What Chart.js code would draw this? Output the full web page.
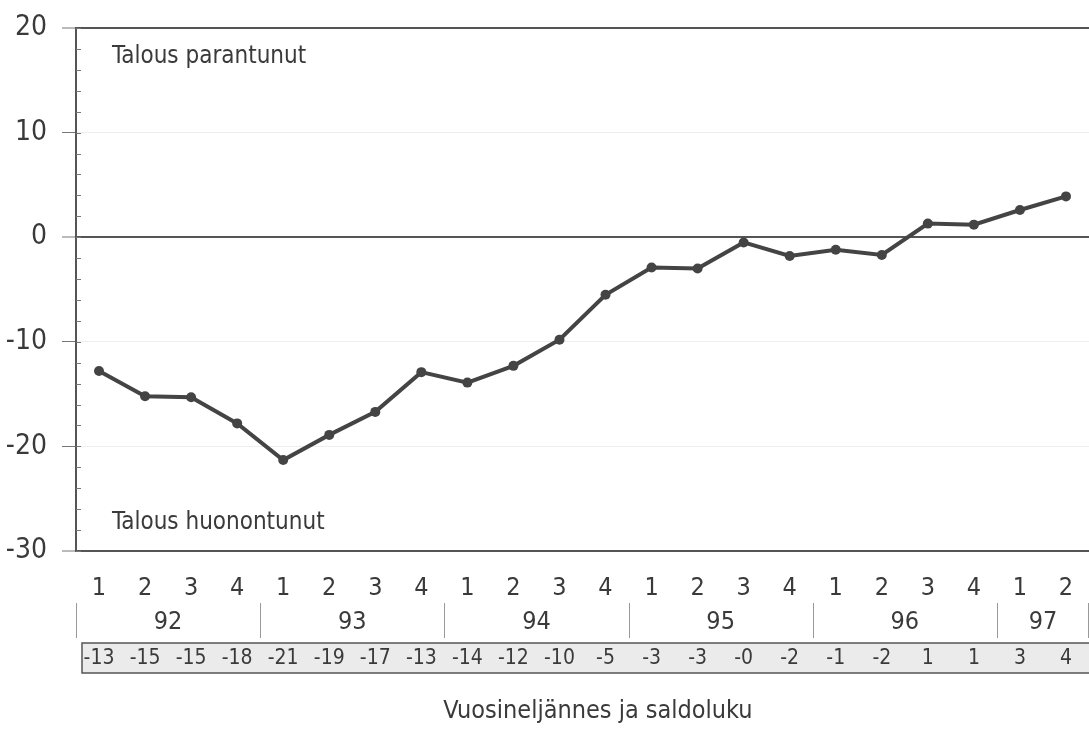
<!DOCTYPE html>
<html>
<head>
<meta charset="utf-8">
<script src="https://cdn.jsdelivr.net/npm/chart.js@4/dist/chart.umd.min.js"></script>
<style>
  body { margin: 0; background: #fff; }
  #wrap { width: 1089px; height: 729px; }
</style>
</head>
<body>
<div id="wrap"><canvas id="chart" width="1089" height="729"></canvas></div>
<script>
const quarters = ["1","2","3","4","1","2","3","4","1","2","3","4","1","2","3","4","1","2","3","4","1","2"];
const years = ["92", "93", "94", "95", "96", "97"];
const yearSpan = [4, 4, 4, 4, 4, 2];
const values = [-12.8, -15.2, -15.3, -17.8, -21.3, -18.9, -16.7, -12.9, -13.9, -12.3, -9.8, -5.5,
                -2.9, -3.0, -0.5, -1.8, -1.2, -1.7, 1.3, 1.2, 2.6, 3.9];
const saldo = ["-13","-15","-15","-18","-21","-19","-17","-13","-14","-12","-10","-5",
               "-3","-3","-0","-2","-1","-2","1","1","3","4"];
const yTicks = [20, 10, 0, -10, -20, -30];

const FONT = '"Liberation Sans Narrow", "DejaVu Sans Condensed", sans-serif';
const INK = "#3a3a3a";
const LINE = "#555";

const extras = {
  id: "extras",
  afterDraw(chart) {
    const ctx = chart.ctx;
    const x = chart.scales.x;
    const y = chart.scales.y;
    const area = chart.chartArea;
    ctx.save();

    // minor ticks inside the left axis
    ctx.strokeStyle = "#777";
    ctx.lineWidth = 1;
    for (let v = -30; v <= 20; v += 2) {
      const py = Math.round(y.getPixelForValue(v)) + 0.5;
      ctx.beginPath();
      ctx.moveTo(area.left, py);
      ctx.lineTo(area.left + 5, py);
      ctx.stroke();
    }

    // annotations
    ctx.fillStyle = INK;
    ctx.font = "24px " + FONT;
    ctx.textBaseline = "middle";
    ctx.textAlign = "left";
    ctx.fillText("Talous parantunut", 112, 57);
    ctx.fillText("Talous huonontunut", 112, 523);

    // year row with separators
    const half = (x.getPixelForValue(1) - x.getPixelForValue(0)) / 2;
    ctx.strokeStyle = "#999";
    ctx.lineWidth = 1;
    let idx = 0;
    ctx.font = "25px " + FONT;
    ctx.textAlign = "center";
    years.forEach(function (yr, i) {
      const x0 = x.getPixelForValue(idx) - half;
      const x1 = x.getPixelForValue(idx + yearSpan[i] - 1) + half;
      ctx.beginPath();
      ctx.moveTo(Math.round(x0) + 0.5, 603);
      ctx.lineTo(Math.round(x0) + 0.5, 638);
      ctx.stroke();
      ctx.fillText(yr, (x0 + x1) / 2, 622);
      idx += yearSpan[i];
    });
    ctx.beginPath();
    ctx.moveTo(1088.5, 603);
    ctx.lineTo(1088.5, 638);
    ctx.stroke();

    // saldo table
    ctx.fillStyle = "#ebebeb";
    ctx.fillRect(82, 643, 1015, 30);
    ctx.strokeStyle = "#555";
    ctx.lineWidth = 1.5;
    ctx.strokeRect(82, 643, 1015, 30);
    ctx.fillStyle = INK;
    ctx.font = "21px " + FONT;
    saldo.forEach(function (s, i) {
      ctx.fillText(s, x.getPixelForValue(i), 659);
    });

    // axis title
    ctx.font = "25px " + FONT;
    ctx.fillText("Vuosineljännes ja saldoluku", 598, 711);
    ctx.restore();
  }
};

new Chart(document.getElementById("chart"), {
  type: "line",
  data: {
    labels: quarters,
    datasets: [{
      data: values,
      borderColor: "#444",
      backgroundColor: "#444",
      borderWidth: 4,
      pointRadius: 5,
      pointBorderWidth: 0,
      tension: 0
    }]
  },
  options: {
    responsive: false,
    animation: false,
    layout: { autoPadding: false, padding: { top: 28, right: 0, left: 0, bottom: 0 } },
    plugins: { legend: { display: false }, tooltip: { enabled: false } },
    scales: {
      x: {
        offset: true,
        grid: { display: false, drawTicks: false },
        border: { display: false },
        ticks: { color: INK, font: { family: FONT, size: 25 }, padding: 22, maxRotation: 0, autoSkip: false },
        afterFit(scale) {
          scale.height = 178;
          scale.paddingLeft = 0;
          scale.paddingRight = 0;
        }
      },
      y: {
        min: -30,
        max: 20,
        afterBuildTicks(scale) { scale.ticks = yTicks.map(v => ({ value: v })); },
        grid: {
          color: ctx => (ctx.tick.value === 0 || ctx.tick.value === 20 || ctx.tick.value === -30) ? LINE : "#eeeeee",
          lineWidth: ctx => (ctx.tick.value === 0 || ctx.tick.value === 20 || ctx.tick.value === -30) ? 2 : 1,
          tickColor: "#777",
          tickLength: 14,
          tickWidth: 1
        },
        border: { color: LINE, width: 2 },
        ticks: { color: INK, font: { family: FONT, size: 28 }, padding: 15 },
        afterFit(scale) {
          scale.width = 76;
          scale.paddingTop = 0;
          scale.paddingBottom = 0;
        }
      }
    }
  },
  plugins: [extras]
});
</script>
</body>
</html>
